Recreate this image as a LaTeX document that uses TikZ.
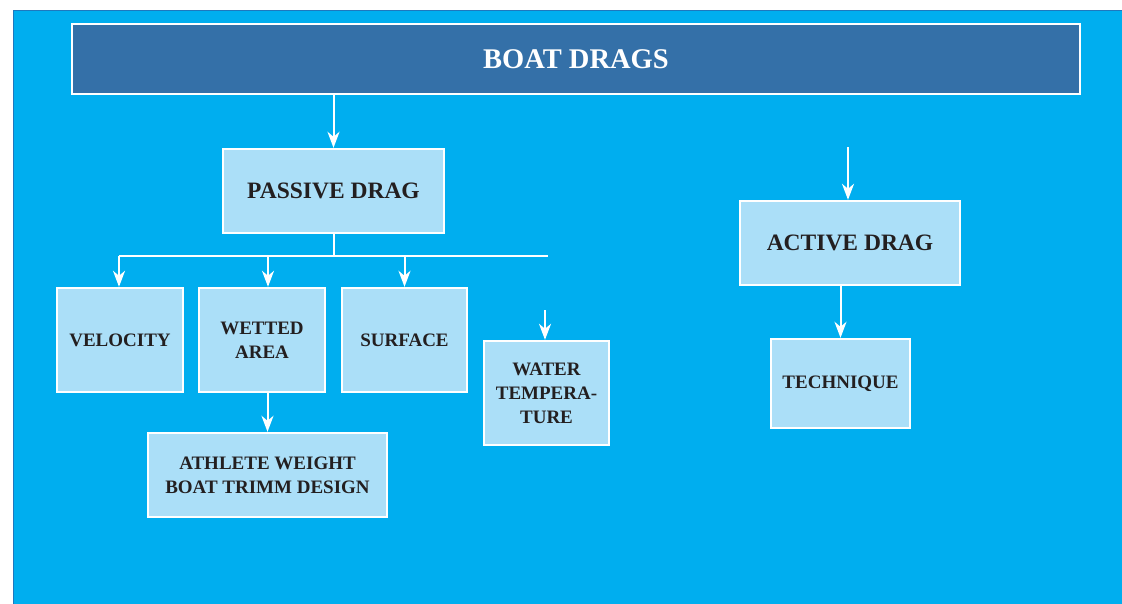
\documentclass[tikz,border=0pt]{standalone}
\usepackage{fontspec}
\setmainfont{Liberation Serif}
\usepackage{tikz}
\usetikzlibrary{arrows.meta}

\definecolor{seablue}{RGB}{0,174,239}
\definecolor{seaedge}{RGB}{30,120,190}
\definecolor{titleblue}{RGB}{52,112,168}
\definecolor{boxblue}{RGB}{171,223,248}
\definecolor{inkdark}{RGB}{35,31,32}

\tikzset{
  titlebox/.style={draw=white,line width=2.2pt,fill=titleblue,text=white,
    font=\fontsize{28.5}{30}\selectfont\bfseries,minimum width=1008pt,minimum height=70pt},
  bigbox/.style={draw=white,line width=2.4pt,fill=boxblue,text=inkdark,
    font=\fontsize{23.5}{26}\selectfont\bfseries,align=center,inner sep=0pt},
  smallbox/.style={draw=white,line width=2.4pt,fill=boxblue,text=inkdark,
    font=\fontsize{19}{24}\selectfont\bfseries,align=center,inner sep=0pt},
  flow/.style={draw=white,line width=2pt,-{Stealth[length=16pt,width=12pt,inset=5pt]}},
  bus/.style={draw=white,line width=2pt}
}

\begin{document}
\begin{tikzpicture}[x=1pt,y=1pt,yscale=-1,xscale=1]
\useasboundingbox (0,0) rectangle (1122,603);

%Shape: Rectangle (background)
\fill[white] (0,0) rectangle (1122,603);
\draw[fill=seablue,draw=seaedge,line width=1pt] (13,10) rectangle (1124,605);

%Title
\node[titlebox] (title) at (576,59) {BOAT DRAGS};

%Passive side
\node[bigbox,minimum width=221pt,minimum height=84pt] (passive) at (333.5,191) {PASSIVE DRAG};
\node[smallbox,minimum width=126pt,minimum height=104pt] (velocity) at (120,340) {VELOCITY};
\node[smallbox,minimum width=126pt,minimum height=104pt] (wetted) at (262,340) {WETTED\\AREA};
\node[smallbox,minimum width=125pt,minimum height=104pt] (surface) at (404.5,340) {SURFACE};
\node[smallbox,minimum width=125pt,minimum height=104pt] (water) at (546.5,393) {WATER\\TEMPERA-\\TURE};
\node[smallbox,minimum width=239pt,minimum height=84pt] (athlete) at (267.5,475) {ATHLETE WEIGHT\\BOAT TRIMM DESIGN};

%Active side
\node[bigbox,minimum width=220pt,minimum height=84pt] (active) at (850,243) {ACTIVE DRAG};
\node[smallbox,minimum width=139pt,minimum height=89pt] (technique) at (840.5,383.5) {TECHNIQUE};

%Free ends
\coordinate (busl) at (119,256);
\coordinate (busr) at (548,256);
\coordinate (watertop) at (545,310);
\coordinate (activetop) at (848,147);

%Connectors
\draw[flow] (passive.north |- title.south) -- (passive.north);
\draw[bus] (passive.south) -- (passive.south |- busl);
\draw[bus] (busl) -- (busr);
\draw[flow] (busl) -- ([xshift=-1pt]velocity.north);
\draw[flow] ([xshift=6pt]wetted.north |- busl) -- ([xshift=6pt]wetted.north);
\draw[flow] (surface.north |- busl) -- (surface.north);
\draw[flow] (athlete.north |- wetted.south) -- (athlete.north);
\draw[flow] (watertop) -- (watertop |- water.north);
\draw[flow] (activetop) -- (activetop |- active.north);
\draw[flow] (technique.north |- active.south) -- (technique.north);
\end{tikzpicture}
\end{document}
